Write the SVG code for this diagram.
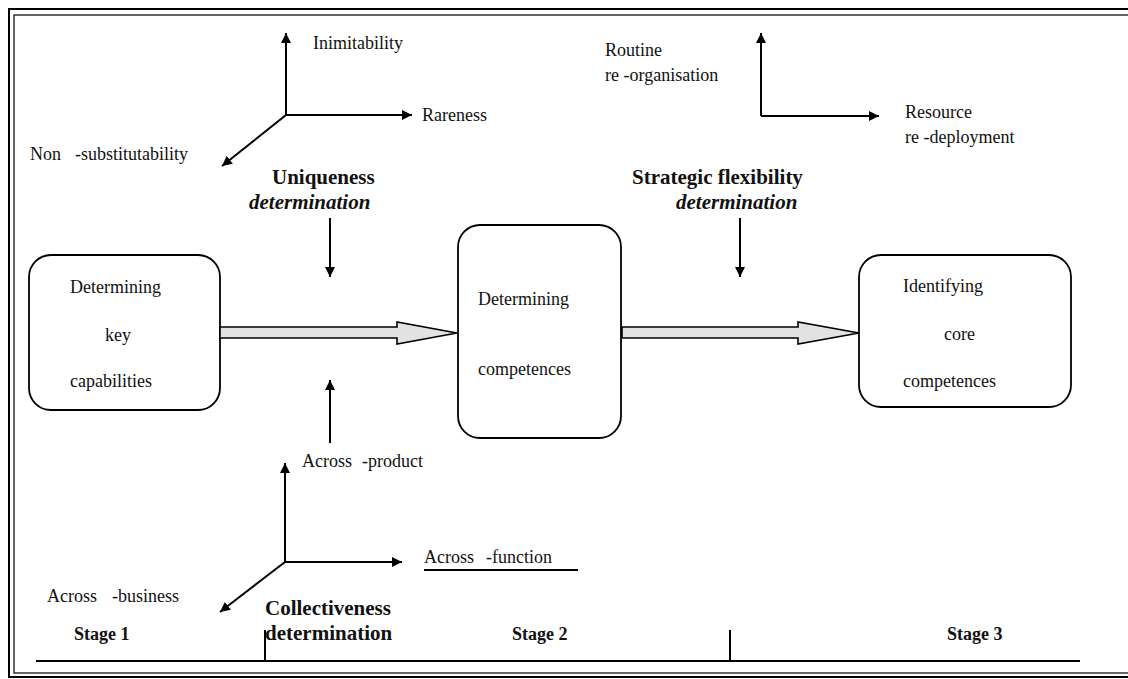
<svg xmlns="http://www.w3.org/2000/svg" width="1128" height="679" viewBox="0 0 1128 679">
  <defs>
    <marker id="head" viewBox="0 0 10 10" refX="10" refY="5" markerWidth="5" markerHeight="5" markerUnits="strokeWidth" orient="auto">
      <path d="M0,0 L10,5 L0,10 Z" fill="#000"/>
    </marker>
  </defs>
  <style>
    .t { font-family: "Liberation Serif", "Times New Roman", serif; font-size: 18px; fill: #111; }
    .b { font-family: "Liberation Serif", "Times New Roman", serif; font-size: 21px; font-weight: bold; fill: #111; }
    .bi { font-family: "Liberation Serif", "Times New Roman", serif; font-size: 21px; font-weight: bold; font-style: italic; fill: #111; }
    .st { font-family: "Liberation Serif", "Times New Roman", serif; font-size: 18px; font-weight: bold; fill: #111; }
    .ax { stroke: #000; stroke-width: 2; fill: none; marker-end: url(#head); }
    .box { fill: #fff; stroke: #000; stroke-width: 1.8; }
    .flow { fill: #e2e2e2; stroke: #000; stroke-width: 1.6; }
    .rule { stroke: #000; stroke-width: 2; fill: none; }
  </style>

  <rect width="1128" height="679" fill="#fff"/>

  <!-- double frame -->
  <g id="frame" fill="none" stroke="#000">
    <rect x="9" y="9" width="1130" height="668" stroke-width="2"/>
    <rect x="14" y="15" width="1120" height="658" stroke-width="1.2"/>
  </g>

  <!-- uniqueness dimensions -->
  <g id="uniqueness-axes">
    <path class="ax" d="M286,115 V33"/>
    <path class="ax" d="M286,115 H412"/>
    <path class="ax" d="M286,115 L222,166"/>
    <text class="t" x="313" y="49">Inimitability</text>
    <text class="t" x="422" y="121">Rareness</text>
    <text class="t" y="160"><tspan x="30">Non</tspan><tspan x="75">-substitutability</tspan></text>
    <text class="b" x="272" y="184">Uniqueness</text>
    <text class="bi" x="249" y="209">determination</text>
  </g>

  <!-- strategic flexibility dimensions -->
  <g id="flexibility-axes">
    <path class="ax" d="M761,116 V33"/>
    <path class="ax" d="M761,116 H879"/>
    <text class="t" x="605" y="56">Routine</text>
    <text class="t" x="605" y="81">re -organisation</text>
    <text class="t" x="905" y="118">Resource</text>
    <text class="t" x="905" y="143">re -deployment</text>
    <text class="b" x="632" y="184">Strategic flexibility</text>
    <text class="bi" x="676" y="209">determination</text>
  </g>

  <!-- process stages -->
  <g id="node-key-capabilities">
    <rect class="box" x="29" y="255" width="191" height="155" rx="22"/>
    <text class="t" x="70" y="293">Determining</text>
    <text class="t" x="105" y="341">key</text>
    <text class="t" x="70" y="387">capabilities</text>
  </g>
  <g id="node-competences">
    <rect class="box" x="458" y="225" width="163" height="213" rx="22"/>
    <text class="t" x="478" y="305">Determining</text>
    <text class="t" x="478" y="375">competences</text>
  </g>
  <g id="node-core-competences">
    <rect class="box" x="859" y="255" width="212" height="152" rx="22"/>
    <text class="t" x="903" y="292">Identifying</text>
    <text class="t" x="944" y="340">core</text>
    <text class="t" x="903" y="387">competences</text>
  </g>

  <g id="connectors">
    <!-- hollow flow arrows -->
    <path class="flow" d="M220,327 H397 V322 L457,333 L397,344 V338 H220 Z"/>
    <path class="flow" d="M622,327 H798 V322 L859,333 L798,344 V338 H622 Z"/>
    <!-- influence arrows -->
    <path class="ax" d="M330,218 V277"/>
    <path class="ax" d="M330,443 V380"/>
    <path class="ax" d="M740,218 V277"/>
  </g>

  <!-- collectiveness dimensions -->
  <g id="collectiveness-axes">
    <path class="ax" d="M285,562 V463"/>
    <path class="ax" d="M285,562 H402"/>
    <path class="ax" d="M285,562 L220,612"/>
    <text class="t" y="467"><tspan x="302">Across</tspan><tspan x="362">-product</tspan></text>
    <text class="t" y="563"><tspan x="424">Across</tspan><tspan x="486">-function</tspan></text>
    <path class="rule" d="M424,570 H578" stroke-width="1.5"/>
    <text class="t" y="602"><tspan x="47">Across</tspan><tspan x="112">-business</tspan></text>
    <text class="b" x="265" y="615">Collectiveness</text>
    <text class="b" x="265" y="640">determination</text>
  </g>

  <!-- stage scale -->
  <g id="stages">
    <path class="rule" d="M36,661 H1080"/>
    <path class="rule" d="M265,630 V661"/>
    <path class="rule" d="M730,630 V661"/>
    <text class="st" x="74" y="640">Stage 1</text>
    <text class="st" x="512" y="640">Stage 2</text>
    <text class="st" x="947" y="640">Stage 3</text>
  </g>
</svg>
